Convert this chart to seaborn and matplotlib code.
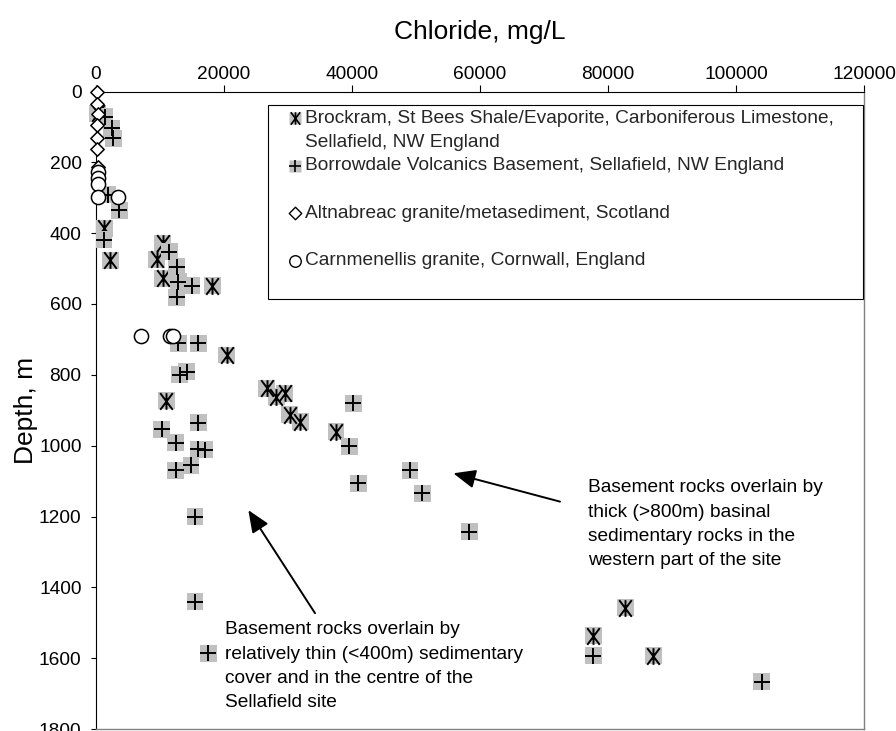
import numpy as np
import pandas as pd
import matplotlib
matplotlib.use("Agg")
import matplotlib.pyplot as plt
import seaborn as sns
from matplotlib.path import Path
from matplotlib.lines import Line2D
from matplotlib.legend_handler import HandlerLine2D

# ---------------- data ----------------
brockram_cl = [300, 1300, 2200, 10400, 9500, 10400, 18200, 20400, 11000, 26700,
               28200, 29500, 30300, 31900, 37500, 82700, 77700, 87100]
brockram_depth = [62, 386, 476, 429, 474, 527, 549, 744, 873, 838,
                  862, 852, 913, 932, 961, 1457, 1537, 1593]

borrowdale_cl = [1400, 2450, 2700, 1800, 3600, 1250, 11450, 12600, 12860, 14950,
                 12600, 12860, 15980, 14170, 13100, 15980, 10270, 12450, 15980, 17000,
                 14840, 12450, 15470, 15470, 17550, 40200, 39580, 40990, 49060, 50990,
                 58330, 77700, 104000]
borrowdale_depth = [71, 104, 132, 292, 335, 419, 452, 495, 537, 549,
                    581, 711, 711, 791, 800, 935, 954, 992, 1010, 1012,
                    1055, 1069, 1200, 1441, 1586, 880, 1002, 1106, 1069, 1134,
                    1243, 1593, 1666]

altnabreac_cl = [100, 150, 250, 150, 200, 150, 250]
altnabreac_depth = [0, 35, 63, 94, 130, 163, 214]

carnmenellis_cl = [300, 300, 300, 300, 3500, 7100, 11500, 12100]
carnmenellis_depth = [228, 243, 260, 297, 297, 690, 690, 690]

x_ticks = [0, 20000, 40000, 60000, 80000, 100000, 120000]
y_ticks = [0, 200, 400, 600, 800, 1000, 1200, 1400, 1600, 1800]

legend_labels = [
    "Brockram, St Bees Shale/Evaporite, Carboniferous Limestone,\nSellafield, NW England",
    "Borrowdale Volcanics Basement, Sellafield, NW England\n",
    "Altnabreac granite/metasediment, Scotland\n",
    "Carnmenellis granite, Cornwall, England\n",
]
note_thick = ("Basement rocks overlain by\nthick (>800m) basinal\n"
              "sedimentary rocks in the\nwestern part of the site")
note_thin = ("Basement rocks overlain by\nrelatively thin (<400m) sedimentary\n"
             "cover and in the centre of the\nSellafield site")

# ---------------- style ----------------
sns.set_theme(style="white")
plt.rcParams["font.family"] = ["Liberation Sans", "DejaVu Sans"]

FS = 13.8
LSP = 1.57
GRAY = "#C0C0C0"

AST = Path([(-0.75, -1), (0.75, 1), (-0.75, 1), (0.75, -1), (0, -1), (0, 1)],
           [Path.MOVETO, Path.LINETO] * 3)
PLUS = Path([(-1, 0), (1, 0), (0, -1), (0, 1)], [Path.MOVETO, Path.LINETO] * 2)
DIAM = Path([(0, 1), (1, 0), (0, -1), (-1, 0), (0, 1)],
            [Path.MOVETO, Path.LINETO, Path.LINETO, Path.LINETO, Path.CLOSEPOLY])

fig = plt.figure(figsize=(8.96, 7.31), dpi=100)
ax = fig.add_axes([96 / 896, 1 - 729 / 731, 768 / 896, (729 - 91.5) / 731])

df_b = pd.DataFrame({"cl": brockram_cl, "depth": brockram_depth})
df_v = pd.DataFrame({"cl": borrowdale_cl, "depth": borrowdale_depth})
df_a = pd.DataFrame({"cl": altnabreac_cl, "depth": altnabreac_depth})
df_c = pd.DataFrame({"cl": carnmenellis_cl, "depth": carnmenellis_depth})

# Brockram: grey box + asterisk
sns.scatterplot(data=df_b, x="cl", y="depth", marker="s", s=12.2 ** 2,
                color=GRAY, edgecolor="none", linewidth=0, ax=ax, zorder=3)
sns.scatterplot(data=df_b, x="cl", y="depth", marker=AST, s=12.0 ** 2,
                color="black", edgecolor="black", linewidth=1.4, ax=ax, zorder=3)
# Borrowdale: grey box + plus
sns.scatterplot(data=df_v, x="cl", y="depth", marker="s", s=12.2 ** 2,
                color=GRAY, edgecolor="none", linewidth=0, ax=ax, zorder=4)
sns.scatterplot(data=df_v, x="cl", y="depth", marker=PLUS, s=11.3 ** 2,
                color="black", edgecolor="black", linewidth=1.4, ax=ax, zorder=4)
# Altnabreac: open diamonds
sns.scatterplot(data=df_a, x="cl", y="depth", marker=DIAM, s=9.6 ** 2,
                color="white", edgecolor="black", linewidth=1.1, ax=ax, zorder=5)
# Carnmenellis: open circles
sns.scatterplot(data=df_c, x="cl", y="depth", marker="o", s=10.2 ** 2,
                color="white", edgecolor="black", linewidth=1.1, ax=ax, zorder=5)

for coll in ax.collections:
    coll.set_clip_on(False)

# ---------------- axes ----------------
ax.set_xlim(0, 120000)
ax.set_ylim(1800, 0)
ax.set_xticks(x_ticks)
ax.set_xticklabels([str(v) for v in x_ticks])
ax.set_yticks(y_ticks)
ax.set_yticklabels([str(v) for v in y_ticks])
ax.xaxis.tick_top()
ax.xaxis.set_label_position("top")
ax.tick_params(axis="x", top=True, bottom=False, labeltop=True, labelbottom=False,
               direction="out", length=4.8, width=0.8, pad=1.5, labelsize=FS,
               colors="black")
ax.tick_params(axis="y", left=True, direction="out", length=3.4, width=0.8,
               pad=7, labelsize=FS, colors="black")
ax.set_xlabel("Chloride, mg/L", fontsize=19, labelpad=19, color="black")
ax.set_ylabel("Depth, m", fontsize=19, labelpad=0.5, color="black")
for s in ["top", "left"]:
    ax.spines[s].set_color("black")
    ax.spines[s].set_linewidth(0.8)
for s in ["right", "bottom"]:
    ax.spines[s].set_color("#808080")
    ax.spines[s].set_linewidth(1.0)
ax.grid(False)

# ---------------- annotations ----------------
ax.annotate("", xy=(55830, 1078), xytext=(72500, 1158),
            arrowprops=dict(arrowstyle="-|>,head_length=0.9,head_width=0.38",
                            color="black", lw=1.4, mutation_scale=15,
                            shrinkA=0, shrinkB=0), zorder=6)
ax.annotate("", xy=(23800, 1182), xytext=(34220, 1473),
            arrowprops=dict(arrowstyle="-|>,head_length=0.9,head_width=0.38",
                            color="black", lw=1.4, mutation_scale=15,
                            shrinkA=0, shrinkB=0), zorder=6)
ax.text(76875, 1222, note_thick, ha="left", va="center", fontsize=FS,
        linespacing=LSP, color="black", zorder=6)
ax.text(20156, 1623, note_thin, ha="left", va="center", fontsize=FS,
        linespacing=LSP, color="black", zorder=6)

# ---------------- legend ----------------
class HandlerShift(HandlerLine2D):
    def __init__(self, dy=0.0, **kw):
        super().__init__(**kw)
        self.dy = dy

    def create_artists(self, legend, orig_handle, xdescent, ydescent, width,
                       height, fontsize, trans):
        arts = super().create_artists(legend, orig_handle, xdescent, ydescent,
                                      width, height, fontsize, trans)
        for a in arts:
            a.set_ydata(np.asarray(a.get_ydata(), dtype=float) + self.dy)
        return arts


h_brock = (Line2D([], [], ls="none", marker="s", ms=8.9, mfc=GRAY, mec="none"),
           Line2D([], [], ls="none", marker=AST, ms=9.0, mfc="none", mec="black", mew=1.2))
h_borrow = (Line2D([], [], ls="none", marker="s", ms=8.9, mfc=GRAY, mec="none"),
            Line2D([], [], ls="none", marker=PLUS, ms=9.0, mfc="none", mec="black", mew=1.2))
h_alt = Line2D([], [], ls="none", marker=DIAM, ms=9.0, mfc="white", mec="black", mew=1.0)
h_carn = Line2D([], [], ls="none", marker="o", ms=8.3, mfc="white", mec="black", mew=1.0)

leg = ax.legend([h_brock, h_borrow, h_alt, h_carn], legend_labels,
                loc="upper left", bbox_to_anchor=(0.224, 0.0, 0.7747, 0.9788),
                mode="expand", borderaxespad=0, fontsize=FS, frameon=True,
                fancybox=False, framealpha=1, edgecolor="black",
                borderpad=0.25, labelspacing=0.32, handlelength=2.3,
                handletextpad=-0.62, numpoints=1,
                handler_map={Line2D: HandlerShift(dy=8.64)})
leg.get_frame().set_linewidth(0.8)
leg.set_zorder(7)
for t in leg.get_texts():
    t.set_linespacing(LSP)

fig.savefig("out.png", dpi=100)
